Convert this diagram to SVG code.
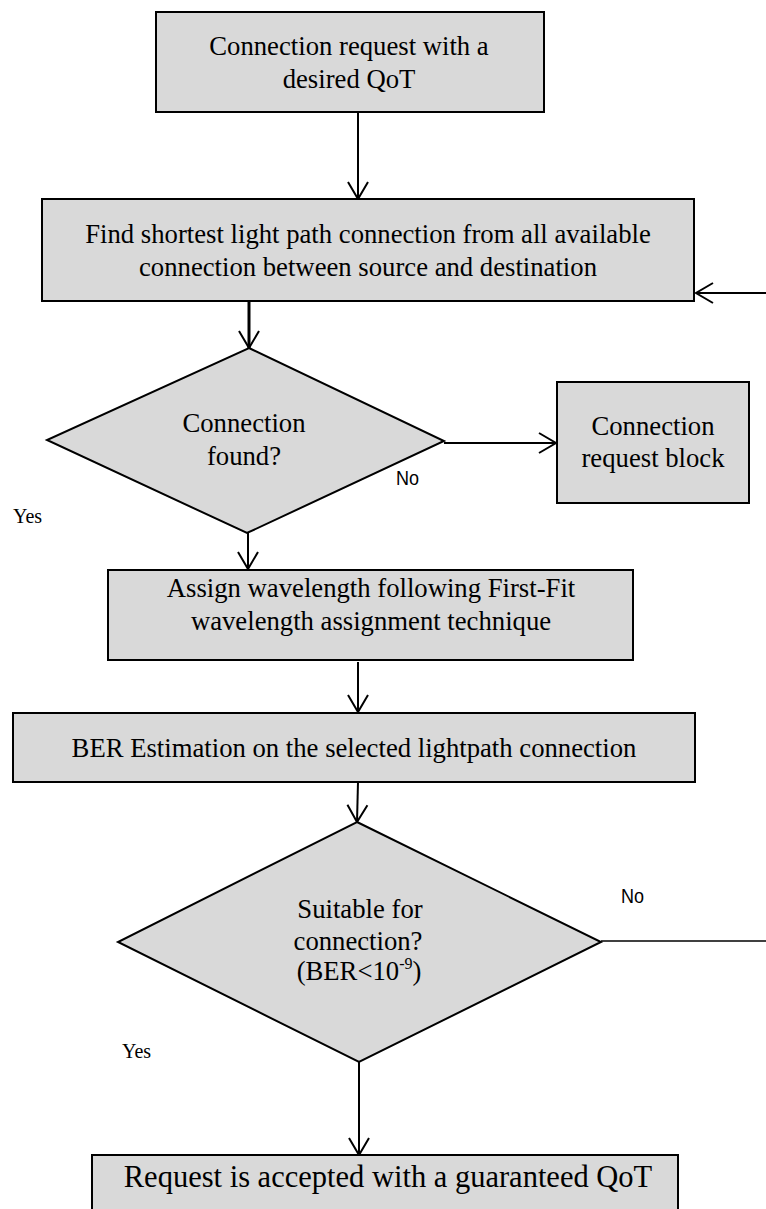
<svg xmlns="http://www.w3.org/2000/svg" width="766" height="1209" viewBox="0 0 766 1209">
  <style>
    .box { fill: #d9d9d9; stroke: #000; stroke-width: 2; }
    .dia { fill: #d9d9d9; stroke: #000; stroke-width: 2; stroke-linejoin: miter; }
    .lbl { font-family: "Liberation Serif", "Times New Roman", serif; font-size: 26.7px; fill: #000; text-anchor: middle; }
    .big { font-size: 30.5px; }
    .yes { font-family: "Liberation Serif", "Times New Roman", serif; font-size: 20px; fill: #000; }
    .no { font-family: "Liberation Sans", Arial, sans-serif; font-size: 20px; fill: #000; }
    .edge { fill: none; stroke: #000; stroke-width: 2; }
    .heavy { stroke-width: 3; }
    .thin { stroke-width: 1.6; }
  </style>
  <defs>
    <marker id="vhead" markerUnits="userSpaceOnUse" viewBox="-20 -12 22 24" refX="0" refY="0" markerWidth="22" markerHeight="24" orient="auto">
      <path d="M-17,-10 L0,0 L-17,10" fill="none" stroke="#000" stroke-width="2"/>
    </marker>
  </defs>

  <rect width="766" height="1209" fill="#fff"/>

  <!-- connectors -->
  <g id="connectors">
    <line class="edge" x1="358" y1="112" x2="358" y2="199" marker-end="url(#vhead)"/>
    <line class="edge heavy" x1="249" y1="301" x2="249" y2="348" marker-end="url(#vhead)"/>
    <line class="edge" x1="444" y1="443" x2="556" y2="443" marker-end="url(#vhead)"/>
    <line class="edge" x1="766" y1="293" x2="696" y2="293" marker-end="url(#vhead)"/>
    <line class="edge" x1="248" y1="533" x2="248" y2="569" marker-end="url(#vhead)"/>
    <line class="edge" x1="358" y1="662" x2="358" y2="712" marker-end="url(#vhead)"/>
    <line class="edge" x1="358" y1="782" x2="357" y2="822" marker-end="url(#vhead)"/>
    <line class="edge" x1="359" y1="1062" x2="359" y2="1155" marker-end="url(#vhead)"/>
    <line class="edge thin" x1="601" y1="941" x2="766" y2="941"/>
    <text class="no" x="396" y="485" textLength="23" lengthAdjust="spacingAndGlyphs">No</text>
    <text class="yes" x="13" y="523">Yes</text>
    <text class="no" x="621" y="903" textLength="23" lengthAdjust="spacingAndGlyphs">No</text>
    <text class="yes" x="122" y="1058">Yes</text>
  </g>

  <g id="request">
    <rect class="box" x="156" y="12" width="388" height="100"/>
    <text class="lbl" x="349" y="55">Connection request with a</text>
    <text class="lbl" x="349" y="88">desired QoT</text>
  </g>

  <g id="find-path">
    <rect class="box" x="42" y="199" width="652" height="102"/>
    <text class="lbl" x="368" y="243">Find shortest light path connection from all available</text>
    <text class="lbl" x="368" y="276">connection between source and destination</text>
  </g>

  <g id="found">
    <polygon class="dia" points="249,348 444,441 247,533 47,440"/>
    <text class="lbl" x="244" y="432">Connection</text>
    <text class="lbl" x="244" y="465">found?</text>
  </g>

  <g id="blocked">
    <rect class="box" x="557" y="382" width="192" height="121"/>
    <text class="lbl" x="653" y="435">Connection</text>
    <text class="lbl" x="653" y="467">request block</text>
  </g>

  <g id="assign">
    <rect class="box" x="108" y="570" width="525" height="90"/>
    <text class="lbl" x="371" y="597">Assign wavelength following First-Fit</text>
    <text class="lbl" x="371" y="630">wavelength assignment technique</text>
  </g>

  <g id="ber">
    <rect class="box" x="13" y="713" width="682" height="69"/>
    <text class="lbl" x="354" y="757">BER Estimation on the selected lightpath connection</text>
  </g>

  <g id="suitable">
    <polygon class="dia" points="357,822 601,942 359,1062 118,942"/>
    <text class="lbl" x="360" y="918">Suitable for</text>
    <text class="lbl" x="358" y="950">connection?</text>
    <text class="lbl" x="359" y="980">(BER&lt;10<tspan font-size="16" dy="-11">-9</tspan><tspan dy="11">)</tspan></text>
  </g>

  <g id="accepted">
    <rect class="box" x="92" y="1155" width="586" height="70"/>
    <text class="lbl big" x="388" y="1187">Request is accepted with a guaranteed QoT</text>
  </g>
</svg>
